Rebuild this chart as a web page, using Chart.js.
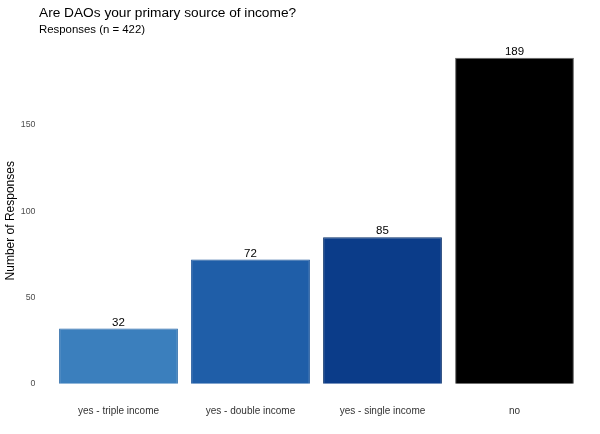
<!doctype html>
<html lang="en">
  <head>
    <meta charset="utf-8">
    <title>Are DAOs your primary source of income?</title>
    <style>
      * { margin: 0; padding: 0; }
      body { background: #fff; }
      .chartBox { width: 600px; height: 434px; }
    </style>
  </head>
  <body>
    <div class="chartBox">
      <canvas id="myChart"></canvas>
    </div>
    <script src="https://cdn.jsdelivr.net/npm/chart.js/dist/chart.umd.min.js"></script>
    <script>
    // data
    const categories = ['yes - triple income', 'yes - double income', 'yes - single income', 'no'];
    const responses = [32, 72, 85, 189];
    const yTicks = [0, 50, 100, 150];

    const fillColors = ['#3b7fbd', '#1f5ea8', '#0b3c89', '#000000'];
    const edgeColors = ['#2566a6', '#124d95', '#08306b', '#666666'];
    const FONT = '"Liberation Sans", Arial, sans-serif';

    // title + subtitle and value labels
    const extras = {
      id: 'extras',
      afterDatasetsDraw(chart) {
        const ctx = chart.ctx;
        ctx.save();
        ctx.fillStyle = '#000';
        ctx.textBaseline = 'alphabetic';
        ctx.textAlign = 'left';
        ctx.font = '13.7px ' + FONT;
        ctx.fillText('Are DAOs your primary source of income?', 39, 17);
        ctx.font = '11.4px ' + FONT;
        ctx.fillText('Responses (n = 422)', 39, 33);

        const meta = chart.getDatasetMeta(0);
        ctx.textAlign = 'center';
        ctx.font = '11.5px ' + FONT;
        meta.data.forEach((bar, i) => {
          ctx.fillText(responses[i], bar.x, bar.y - 3);
        });
        ctx.restore();
      }
    };

    const config = {
      type: 'bar',
      data: {
        labels: categories,
        datasets: [{
          data: responses,
          backgroundColor: fillColors,
          borderColor: edgeColors,
          borderWidth: 1,
          barPercentage: 0.9,
          categoryPercentage: 1.0
        }]
      },
      options: {
        responsive: true,
        maintainAspectRatio: false,
        animation: false,
        layout: { padding: { top: 41.5, right: 19.5, bottom: 0, left: 0 } },
        plugins: {
          legend: { display: false },
          tooltip: { enabled: false }
        },
        scales: {
          x: {
            grid: { display: false, drawTicks: false },
            border: { display: false },
            ticks: { color: '#333', font: { family: FONT, size: 10 }, padding: 5 },
            afterFit(scale) { scale.height = 34; }
          },
          y: {
            min: -9.45,
            max: 198.45,
            grid: { display: false, drawTicks: false },
            border: { display: false },
            ticks: { color: '#4d4d4d', font: { family: FONT, size: 8.8 }, padding: 17 },
            afterBuildTicks(scale) {
              scale.ticks = yTicks.map(v => ({ value: v }));
            },
            title: {
              display: true,
              text: 'Number of Responses',
              color: '#000',
              font: { family: FONT, size: 12 },
              padding: { top: 3, bottom: 0 }
            },
            afterFit(scale) { scale.width = 52.5; }
          }
        }
      },
      plugins: [extras]
    };

    const myChart = new Chart(document.getElementById('myChart'), config);
    </script>
  </body>
</html>
